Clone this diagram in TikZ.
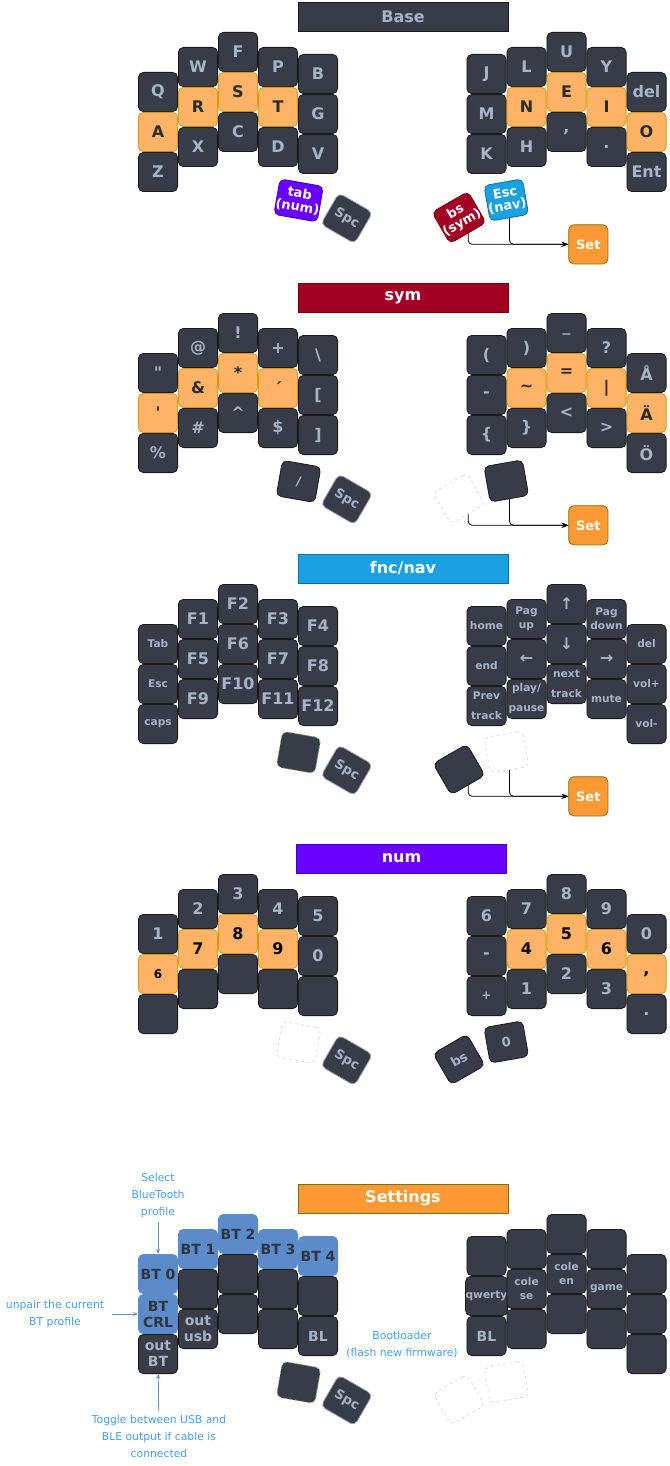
\documentclass[tikz,border=0pt]{standalone}
\usepackage{fontspec}
\setmainfont{DejaVu Sans}
\usepackage{xcolor}
\usepackage{tikz}
\usetikzlibrary{arrows.meta,positioning}

\definecolor{keydark}{HTML}{373C48}
\definecolor{keytext}{HTML}{A9B3C6}
\definecolor{keyline}{HTML}{1A1A1A}
\definecolor{homefill}{HTML}{FFB366}
\definecolor{homeline}{HTML}{D79B00}
\definecolor{hometext}{HTML}{2B2B2B}
\definecolor{setfill}{HTML}{FF9933}
\definecolor{setline}{HTML}{75750A}
\definecolor{btfill}{HTML}{5B8BC9}
\definecolor{bttext}{HTML}{2E3440}
\definecolor{symred}{HTML}{A20025}
\definecolor{symline}{HTML}{6F0000}
\definecolor{navblue}{HTML}{1BA1E2}
\definecolor{navline}{HTML}{006EAF}
\definecolor{numviolet}{HTML}{6A00FF}
\definecolor{numline}{HTML}{3700CC}
\definecolor{notetext}{HTML}{4A9DEB}
\definecolor{notearrow}{HTML}{6C8EBF}
\definecolor{blankline}{HTML}{DDDDDD}
\definecolor{greenline}{HTML}{82B366}
\definecolor{spcline}{HTML}{9AA3B5}

\begin{document}
\begin{tikzpicture}[
  x=1pt, y=-1pt,
  >=Stealth,
  key/.style={draw=keyline, fill=keydark, text=keytext, rounded corners=5pt, line width=0.8pt, minimum width=39.2pt, minimum height=39.2pt, inner sep=0pt, align=center, font=\fontsize{16}{16}\selectfont\bfseries},
  homekey/.style={key, fill=homefill, draw=homeline, text=hometext},
  small/.style={font=\fontsize{10.6}{14}\selectfont\bfseries},
  tall/.style={font=\fontsize{10.6}{20}\selectfont\bfseries},
  midtext/.style={font=\fontsize{14}{16}\selectfont\bfseries},
  thumb/.style={key, minimum width=39pt, minimum height=36pt, font=\fontsize{13}{13}\selectfont\bfseries},
  spckey/.style={thumb, draw=spcline},
  blank/.style={thumb, fill=white, draw=blankline, dashed},
  trans/.style={thumb, draw=greenline, dashed},
  setkey/.style={key, fill=setfill, draw=setline, text=white, font=\fontsize{13}{13}\selectfont\bfseries},
  btkey/.style={key, fill=btfill, draw=btfill, text=bttext, font=\fontsize{14}{16}\selectfont\bfseries},
  titlebar/.style={minimum width=210pt, minimum height=29pt, inner sep=0pt, line width=0.8pt, font=\fontsize{16}{16}\selectfont\bfseries},
  note/.style={text=notetext, align=center, font=\fontsize{10.8}{17}\selectfont},
  noteline/.style={-{Stealth[length=5pt,width=4pt]}, draw=notearrow, line width=0.8pt},
  link/.style={->, rounded corners=4pt, line width=0.8pt},
]
\useasboundingbox (0,0) rectangle (669,1466);

% ---------------- Base layer
\node[titlebar, fill=keydark, draw=keyline, text=keytext] (basetitle) at (403,16.5) {Base};

\node[key]     (bl0a) at (158,92)  {Q};
\node[homekey] (bl0b) at (158,132) {A};
\node[key]     (bl0c) at (158,172) {Z};
\node[key]     (bl1a) at (198,67)  {W};
\node[homekey] (bl1b) at (198,107) {R};
\node[key]     (bl1c) at (198,147) {X};
\node[key]     (bl2a) at (238,52)  {F};
\node[homekey] (bl2b) at (238,92)  {S};
\node[key]     (bl2c) at (238,132) {C};
\node[key]     (bl3a) at (278,67)  {P};
\node[homekey] (bl3b) at (278,107) {T};
\node[key]     (bl3c) at (278,147) {D};
\node[key]     (bl4a) at (318,74)  {B};
\node[key]     (bl4b) at (318,114) {G};
\node[key]     (bl4c) at (318,154) {V};

\node[key]     (br0a) at (486.5,74)  {J};
\node[key]     (br0b) at (486.5,114) {M};
\node[key]     (br0c) at (486.5,154) {K};
\node[key]     (br1a) at (526.5,67)  {L};
\node[homekey] (br1b) at (526.5,107) {N};
\node[key]     (br1c) at (526.5,147) {H};
\node[key]     (br2a) at (566.5,52)  {U};
\node[homekey] (br2b) at (566.5,92)  {E};
\node[key]     (br2c) at (566.5,132) {,};
\node[key]     (br3a) at (606.5,67)  {Y};
\node[homekey] (br3b) at (606.5,107) {I};
\node[key]     (br3c) at (606.5,147) {.};
\node[key]     (br4a) at (646.5,92)  {del};
\node[homekey] (br4b) at (646.5,132) {O};
\node[key]     (br4c) at (646.5,172) {Ent};

\node[thumb, fill=numviolet, draw=numline, text=white, rotate=-10] (tabnum) at (298.6,200.4) {tab\\(num)};
\node[spckey, rotate=-30] (basespc) at (346.7,218.3) {Spc};
\node[thumb, fill=symred, draw=symline, text=white, rotate=30] (bssym) at (459,217.5) {bs\\(sym)};
\node[thumb, fill=navblue, draw=navline, text=white, rotate=10] (escnav) at (506.3,200) {Esc\\(nav)};
\node[setkey] (baseset) at (588.3,244.3) {Set};

\draw[link] (bssym.south) |- (baseset);
\draw[link] (escnav.south) |- (baseset);

% ---------------- sym layer
\begin{scope}[yshift=-281pt]
\node[titlebar, fill=symred, draw=symline, text=white] (symtitle) at (403,16.5) {sym};

\node[key]     (sl0a) at (158,92)  {\textquotedbl};
\node[homekey] (sl0b) at (158,132) {\textquotesingle};
\node[key]     (sl0c) at (158,172) {\%};
\node[key]     (sl1a) at (198,67)  {@};
\node[homekey] (sl1b) at (198,107) {\&};
\node[key]     (sl1c) at (198,147) {\#};
\node[key]     (sl2a) at (238,52)  {!};
\node[homekey] (sl2b) at (238,92)  {*};
\node[key]     (sl2c) at (238,132) {\textasciicircum};
\node[key]     (sl3a) at (278,67)  {+};
\node[homekey] (sl3b) at (278,107) {´};
\node[key]     (sl3c) at (278,147) {\$};
\node[key]     (sl4a) at (318,74)  {\textbackslash};
\node[key]     (sl4b) at (318,114) {[};
\node[key]     (sl4c) at (318,154) {]};

\node[key]     (sr0a) at (486.5,74)  {(};
\node[key]     (sr0b) at (486.5,114) {-};
\node[key]     (sr0c) at (486.5,154) {\{};
\node[key]     (sr1a) at (526.5,67)  {)};
\node[homekey] (sr1b) at (526.5,107) {\textasciitilde};
\node[key]     (sr1c) at (526.5,147) {\}};
\node[key]     (sr2a) at (566.5,52)  {\_};
\node[homekey] (sr2b) at (566.5,92)  {=};
\node[key]     (sr2c) at (566.5,132) {\textless};
\node[key]     (sr3a) at (606.5,67)  {?};
\node[homekey] (sr3b) at (606.5,107) {\textbar};
\node[key]     (sr3c) at (606.5,147) {\textgreater};
\node[key]     (sr4a) at (646.5,92)  {Å};
\node[homekey] (sr4b) at (646.5,132) {Ä};
\node[key]     (sr4c) at (646.5,172) {Ö};

\node[thumb, rotate=-10] (symslash) at (298.6,200.4) {/};
\node[spckey, rotate=-30] (symspc) at (346.7,218.3) {Spc};
\node[blank, rotate=30] (symbs) at (459,217.5) {};
\node[thumb, rotate=10] (symesc) at (506.3,200) {};
\node[setkey] (symset) at (588.3,244.3) {Set};

\draw[link] (symbs.south) |- (symset);
\draw[link] (symesc.south) |- (symset);
\end{scope}

% ---------------- fnc/nav layer
\begin{scope}[yshift=-552pt]
\node[titlebar, fill=navblue, draw=navline, text=white] (navtitle) at (403,16.5) {fnc/nav};

\node[key, small] (fl0a) at (158,92)  {Tab};
\node[key, small] (fl0b) at (158,132) {Esc};
\node[key, small] (fl0c) at (158,172) {caps};
\node[key] (fl1a) at (198,67)  {F1};
\node[key] (fl1b) at (198,107) {F5};
\node[key] (fl1c) at (198,147) {F9};
\node[key] (fl2a) at (238,52)  {F2};
\node[key] (fl2b) at (238,92)  {F6};
\node[key] (fl2c) at (238,132) {F10};
\node[key] (fl3a) at (278,67)  {F3};
\node[key] (fl3b) at (278,107) {F7};
\node[key] (fl3c) at (278,147) {F11};
\node[key] (fl4a) at (318,74)  {F4};
\node[key] (fl4b) at (318,114) {F8};
\node[key] (fl4c) at (318,154) {F12};

\node[key, small] (fr0a) at (486.5,74)  {home};
\node[key, small] (fr0b) at (486.5,114) {end};
\node[key, tall]  (fr0c) at (486.5,154) {Prev\\track};
\node[key, small] (fr1a) at (526.5,67)  {Pag\\up};
\node[key]        (fr1b) at (526.5,107) {←};
\node[key, tall]  (fr1c) at (526.5,147) {play/\\pause};
\node[key]        (fr2a) at (566.5,52)  {↑};
\node[key]        (fr2b) at (566.5,92)  {↓};
\node[key, tall]  (fr2c) at (566.5,132) {next\\track};
\node[key, small] (fr3a) at (606.5,67)  {Pag\\down};
\node[key]        (fr3b) at (606.5,107) {→};
\node[key, small] (fr3c) at (606.5,147) {mute};
\node[key, small] (fr4a) at (646.5,92)  {del};
\node[key, small] (fr4b) at (646.5,132) {vol+};
\node[key, small] (fr4c) at (646.5,172) {vol-};

\node[trans, rotate=-10] (navtab) at (298.6,200.4) {};
\node[spckey, rotate=-30] (navspc) at (346.7,218.3) {Spc};
\node[thumb, rotate=30] (navbs) at (459,217.5) {};
\node[blank, rotate=10] (navesc) at (506.3,200) {};
\node[setkey] (navset) at (588.3,244.3) {Set};

\draw[link] (navbs.south) |- (navset);
\draw[link] (navesc.south) |- (navset);
\end{scope}

% ---------------- num layer
\begin{scope}[yshift=-842pt]
\node[titlebar, fill=numviolet, draw=numline, text=white] (numtitle) at (401.5,16.5) {num};

\node[key] (nl0a) at (158,92)  {1};
\node[homekey, text=black, font=\fontsize{12}{12}\selectfont\bfseries] (nl0b) at (158,132) {6};
\node[key] (nl0c) at (158,172) {};
\node[key] (nl1a) at (198,67)  {2};
\node[homekey, text=black] (nl1b) at (198,107) {7};
\node[key] (nl1c) at (198,147) {};
\node[key] (nl2a) at (238,52)  {3};
\node[homekey, text=black] (nl2b) at (238,92)  {8};
\node[key] (nl2c) at (238,132) {};
\node[key] (nl3a) at (278,67)  {4};
\node[homekey, text=black] (nl3b) at (278,107) {9};
\node[key] (nl3c) at (278,147) {};
\node[key] (nl4a) at (318,74)  {5};
\node[key] (nl4b) at (318,114) {0};
\node[key] (nl4c) at (318,154) {};

\node[key] (nr0a) at (486.5,74)  {6};
\node[key] (nr0b) at (486.5,114) {-};
\node[key, font=\fontsize{12}{12}\selectfont\bfseries] (nr0c) at (486.5,154) {+};
\node[key] (nr1a) at (526.5,67)  {7};
\node[homekey, text=black] (nr1b) at (526.5,107) {4};
\node[key] (nr1c) at (526.5,147) {1};
\node[key] (nr2a) at (566.5,52)  {8};
\node[homekey, text=black] (nr2b) at (566.5,92)  {5};
\node[key] (nr2c) at (566.5,132) {2};
\node[key] (nr3a) at (606.5,67)  {9};
\node[homekey, text=black] (nr3b) at (606.5,107) {6};
\node[key] (nr3c) at (606.5,147) {3};
\node[key] (nr4a) at (646.5,92)  {0};
\node[homekey, text=black] (nr4b) at (646.5,132) {,};
\node[key] (nr4c) at (646.5,172) {.};

\node[blank, rotate=-10] (numtab) at (298.6,200.4) {};
\node[spckey, rotate=-30] (numspc) at (346.7,218.3) {Spc};
\node[thumb, rotate=30] (numbs) at (459,217.5) {bs};
\node[thumb, rotate=10] (numzero) at (506.3,200) {0};
\end{scope}

% ---------------- Settings layer
\begin{scope}[yshift=-1182pt]
\node[titlebar, fill=setfill, draw=setline, text=white] (settitle) at (403,16.5) {Settings};

\node[btkey] (tl0a) at (158,92)  {BT 0};
\node[btkey] (tl0b) at (158,132) {BT\\CRL};
\node[key, midtext] (tl0c) at (158,172) {out\\BT};
\node[btkey] (tl1a) at (198,67)  {BT 1};
\node[key]   (tl1b) at (198,107) {};
\node[key, midtext] (tl1c) at (198,147) {out\\usb};
\node[btkey] (tl2a) at (238,52)  {BT 2};
\node[key]   (tl2b) at (238,92)  {};
\node[key]   (tl2c) at (238,132) {};
\node[btkey] (tl3a) at (278,67)  {BT 3};
\node[key]   (tl3b) at (278,107) {};
\node[key]   (tl3c) at (278,147) {};
\node[btkey] (tl4a) at (318,74)  {BT 4};
\node[key]   (tl4b) at (318,114) {};
\node[key, midtext] (tl4c) at (318,154) {BL};

\node[key]        (tr0a) at (486.5,74)  {};
\node[key, small] (tr0b) at (486.5,114) {qwerty};
\node[key, midtext] (tr0c) at (486.5,154) {BL};
\node[key]        (tr1a) at (526.5,67)  {};
\node[key, small] (tr1b) at (526.5,107) {cole\\se};
\node[key]        (tr1c) at (526.5,147) {};
\node[key]        (tr2a) at (566.5,52)  {};
\node[key, small] (tr2b) at (566.5,92)  {cole\\en};
\node[key]        (tr2c) at (566.5,132) {};
\node[key]        (tr3a) at (606.5,67)  {};
\node[key, small] (tr3b) at (606.5,107) {game};
\node[key]        (tr3c) at (606.5,147) {};
\node[key]        (tr4a) at (646.5,92)  {};
\node[key]        (tr4b) at (646.5,132) {};
\node[key]        (tr4c) at (646.5,172) {};

\node[trans, rotate=-10] (settab) at (298.6,200.4) {};
\node[spckey, rotate=-30] (setspc) at (346.7,218.3) {Spc};
\node[blank, rotate=30] (setbs) at (459,217.5) {};
\node[blank, rotate=10] (setesc) at (506.3,200) {};

% notes
\node[note] (selectnote) at (158,14) {Select\\BlueTooth\\profile};
\node[note, inner xsep=8pt] (unpairnote) at (55,132) {unpair the current\\BT profile};
\node[note] (togglenote) at (159,254) {Toggle between USB and\\BLE output if cable is\\connected};
\node[note] (bootnote) at (402,162.7) {Bootloader\\(flash new firmware)};

\draw[noteline] (selectnote) -- (tl0a);
\draw[noteline] (unpairnote) -- (tl0b);
\draw[noteline] (togglenote) -- (tl0c);
\end{scope}

\end{tikzpicture}
\end{document}
